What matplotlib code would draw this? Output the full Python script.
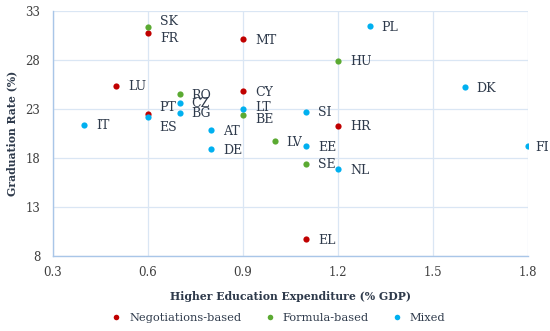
"""Graduation rate vs higher education expenditure, by funding model."""

import matplotlib

matplotlib.use("Agg")
import matplotlib.pyplot as plt
from matplotlib.lines import Line2D

# country codes, expenditure (% GDP), graduation rate (%), funding model
countries = ["SK", "FR", "MT", "LU", "RO", "CZ", "BG", "PT", "ES", "IT",
             "AT", "DE", "CY", "LT", "BE", "LV", "PL", "HU", "DK", "SI",
             "HR", "EE", "FI", "SE", "NL", "EL"]
expenditure = [0.6, 0.6, 0.9, 0.5, 0.7, 0.7, 0.7, 0.6, 0.6, 0.4,
               0.8, 0.8, 0.9, 0.9, 0.9, 1.0, 1.3, 1.2, 1.6, 1.1,
               1.2, 1.1, 1.8, 1.1, 1.2, 1.1]
graduation = [31.3, 30.7, 30.1, 25.35, 24.5, 23.6, 22.6, 22.5, 22.2, 21.4,
              20.8, 18.9, 24.8, 23.0, 22.4, 19.7, 31.4, 27.9, 25.2, 22.7,
              21.3, 19.2, 19.2, 17.4, 16.85, 9.7]
model = ["Formula", "Neg", "Neg", "Neg", "Formula", "Mixed", "Mixed", "Neg",
         "Mixed", "Mixed", "Mixed", "Mixed", "Neg", "Mixed", "Formula",
         "Formula", "Mixed", "Formula", "Mixed", "Mixed", "Neg", "Mixed",
         "Mixed", "Formula", "Mixed", "Neg"]

model_names = ["Neg", "Formula", "Mixed"]
legend_labels = ["Negotiations-based", "Formula-based", "Mixed"]
colors = {"Neg": "#C00000", "Formula": "#5BAA32", "Mixed": "#00B0F0"}

x_ticks = [0.3, 0.6, 0.9, 1.2, 1.5, 1.8]
y_ticks = [8, 13, 18, 23, 28, 33]

# label offsets in pixels (default sits just right of the dot)
label_offsets = {"SK": (12, 5.5), "FR": (12, -5), "PT": (11, 6.5),
                 "ES": (11, -10.5), "BE": (12, -4.5), "FI": (7, -1),
                 "LT": (12, 1.5)}

FONT = "DejaVu Serif"
TEXT = "#2E3A4B"
TICK = "#3F3F3F"
GRID = "#DAE6F4"
SPINE = "#A9C6E8"

fig = plt.figure(figsize=(5.5, 3.31), dpi=100)
ax = fig.add_axes([0.096, 0.226, 0.864, 0.742])

for name in model_names:
    xs = [x for x, m in zip(expenditure, model) if m == name]
    ys = [y for y, m in zip(graduation, model) if m == name]
    ax.scatter(xs, ys, s=20, color=colors[name], zorder=3, linewidths=0)

for code, x, y in zip(countries, expenditure, graduation):
    dx, dy = label_offsets.get(code, (12, -1))
    ax.annotate(code, (x, y), xytext=(dx, dy), textcoords="offset pixels",
                ha="left", va="center", fontsize=9, family=FONT, color=TEXT,
                annotation_clip=False)

ax.set_xlim(0.3, 1.8)
ax.set_ylim(8, 33)
ax.set_xticks(x_ticks)
ax.set_yticks(y_ticks)
ax.set_xticklabels([f"{v:.1f}" for v in x_ticks], family=FONT, fontsize=8.5,
                   color=TICK)
ax.set_yticklabels([str(v) for v in y_ticks], family=FONT, fontsize=8.5,
                   color=TICK)
ax.tick_params(axis="x", length=0, pad=7)
ax.tick_params(axis="y", length=0, pad=9)
ax.grid(True, color=GRID, linewidth=0.9)
ax.set_axisbelow(True)
for side in ["top", "right"]:
    ax.spines[side].set_visible(False)
for side in ["left", "bottom"]:
    ax.spines[side].set_color(SPINE)
    ax.spines[side].set_linewidth(1.0)

ax.set_xlabel("Higher Education Expenditure (% GDP)", family=FONT,
              fontsize=7.8, fontweight="bold", color=TEXT, labelpad=9)
ax.set_ylabel("Graduation Rate (%)", family=FONT, fontsize=7.8,
              fontweight="bold", color=TEXT, labelpad=6)

handles = [Line2D([], [], marker="o", linestyle="", markersize=4,
                  markerfacecolor=colors[n], markeredgewidth=0)
           for n in model_names]
fig.legend(handles, legend_labels, loc="center", bbox_to_anchor=(0.5, 0.04),
           ncol=3, frameon=False, handletextpad=0.1, columnspacing=1.5,
           prop={"family": FONT, "size": 8.2}, labelcolor=TEXT)

fig.savefig("out.png", dpi=100)
